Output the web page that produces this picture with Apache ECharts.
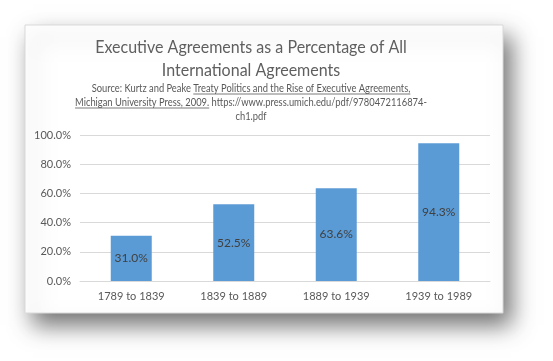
<!DOCTYPE html>
<html><head><meta charset="utf-8">
<script src="https://cdn.jsdelivr.net/npm/echarts@6/dist/echarts.min.js"></script>
<style>html,body{margin:0;padding:0;background:#fff}#c{width:553px;height:361px}</style>
</head><body><div id="c"></div>
<script>
const categories = ['1789 to 1839', '1839 to 1889', '1889 to 1939', '1939 to 1989'];
const values = [31.0, 52.5, 63.6, 94.3];
const yTicks = [0, 20, 40, 60, 80, 100];
const titleLines = ['Executive Agreements as a Percentage of All', 'International Agreements'];
const sourceLine1 = ['Source: Kurtz and Peake ', 'Treaty Politics and the Rise of Executive Agreements,'];
const sourceLine2 = ['Michigan University Press, 2009.', ' https://www.press.umich.edu/pdf/9780472116874-'];
const sourceLine3 = 'ch1.pdf';

const FONT = 'Lato, "Open Sans", sans-serif';
const chart = echarts.init(document.getElementById('c'), null, {renderer: 'canvas'});
const ctx = document.createElement('canvas').getContext('2d');
const subFont = '11px ' + FONT;
const SX = 0.85;
function w(t){ ctx.font = subFont; return ctx.measureText(t).width * SX; }

const cx = 251;
const graphics = [];
graphics.push({type:'rect', z:-10, shape:{x:25,y:25,width:478,height:288},
  style:{fill:'#fff', stroke:'#d9d9d9', lineWidth:1, shadowBlur:22, shadowOffsetX:8, shadowOffsetY:12, shadowColor:'rgba(0,0,0,0.55)'}});
titleLines.forEach((t,i)=>graphics.push({type:'text', x:cx, y:47+i*23, scaleX:0.89,
  style:{text:t, font:'18px '+FONT, fill:'#5f5f5f', textAlign:'center', textVerticalAlign:'middle'}}));
function segLine(parts, y, underlineIdx){
  const total = parts.reduce((s,p)=>s+w(p),0);
  let x = cx - total/2;
  parts.forEach((p,i)=>{
    graphics.push({type:'text', x:x, y:y, scaleX:SX, style:{text:p, font:subFont, fill:'#595959', textAlign:'left', textVerticalAlign:'middle'}});
    if (i===underlineIdx){
      graphics.push({type:'line', shape:{x1:x, y1:y+6, x2:x+w(p), y2:y+6}, style:{stroke:'#595959', lineWidth:0.8}});
    }
    x += w(p);
  });
}
segLine(sourceLine1, 88, 1);
segLine(sourceLine2, 102, 0);
graphics.push({type:'text', x:cx, y:116, scaleX:SX, style:{text:sourceLine3, font:subFont, fill:'#595959', textAlign:'center', textVerticalAlign:'middle'}});

chart.setOption({
  animation:false,
  backgroundColor:'#ffffff',
  graphic: graphics,
  grid:{left:80, right:63, top:135, bottom:80},
  xAxis:{type:'category', data:categories,
    axisLine:{lineStyle:{color:'#d9d9d9'}}, axisTick:{show:false},
    axisLabel:{color:'#595959', fontSize:11, fontFamily:FONT, margin:10}},
  yAxis:{type:'value', min:yTicks[0], max:yTicks[yTicks.length-1], interval:20,
    axisLine:{show:false}, axisTick:{show:false},
    splitLine:{lineStyle:{color:'#d9d9d9'}},
    axisLabel:{color:'#595959', fontSize:11, fontFamily:FONT, margin:9, formatter:v=>v.toFixed(1)+'%'}},
  series:[{type:'bar', data:values, barWidth:'40%',
    itemStyle:{color:'#5b9bd5'},
    label:{show:true, position:'inside', color:'#404040', fontSize:12, fontFamily:FONT, formatter:p=>p.value.toFixed(1)+'%'}}]
});
</script></body></html>
